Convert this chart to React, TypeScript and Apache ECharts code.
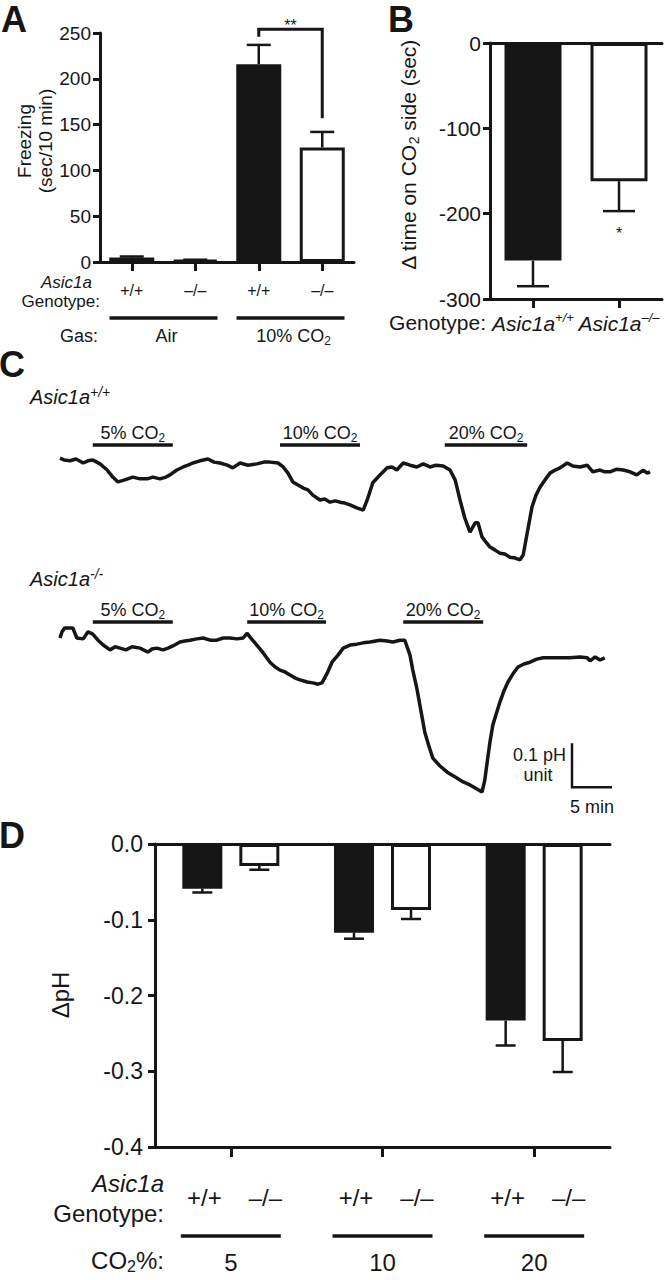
import React, { useEffect, useRef } from "react";
import * as echarts from "echarts";

const FONT = "'Liberation Sans', Arial, Helvetica, sans-serif";
const INK = "#161616";

// ---------- Panel A : freezing ----------
const freezeGroups = ["Air", "Air", "CO2", "CO2"];
const freezeGenotypes = ["+/+", "–/–", "+/+", "–/–"];
const freezeMeans = [5, 2, 216, 125];
const freezeSEM = [1, 0.5, 21, 17];
const gasLabels = ["Air", "10% CO{s|2}"];
const freezeBracket = [2, 3, 254, 246, 157]; // from cat, to cat, top, left end, right end
const freezeSig = "**";

// ---------- Panel B : avoidance ----------
const avoidGenotypes = ["+/+", "–/–"];
const avoidMeans = [-255, -162];
const avoidSEM = [30, 35];
const avoidSig = ["", "*"];

// ---------- Panel C : pH traces ----------
const trace1Time = [0, 0.5, 1.25, 2, 2.9, 3.5, 4.1, 4.6, 5, 5.9, 6.6, 7.25, 8, 9.1, 10, 10.9, 11.6, 12.5, 13.25, 13.75, 14.6, 15.4, 16, 16.6, 17.5, 18.5, 19.25, 20, 20.9, 21.6, 22.5, 23.5, 24.6, 25.5, 26.25, 27.25, 27.9, 28.5, 29.1, 29.75, 30.4, 31, 31.6, 32.5, 33.1, 33.75, 34.4, 35, 35.6, 36.25, 37.1, 37.9, 38.4, 39.1, 40, 40.9, 41.5, 42.1, 42.9, 43.75, 44.6, 45.4, 46.25, 47, 47.9, 48.75, 49.4, 50, 50.6, 51.25, 51.9, 52.25, 52.75, 53.25, 53.75, 54.4, 55, 55.6, 56.25, 56.9, 57.5, 57.9, 58.4, 59, 59.5, 60, 60.6, 61.25, 61.9, 62.5, 63.4, 64.1, 65, 65.9, 66.6, 67.5, 68.1, 68.75, 69.6, 70.4, 71.25, 72.1, 72.9, 73.4, 73.75];
const trace1PH = [0.011, 0.007, 0.005, 0.009, 0, 0.005, 0.007, 0.002, -0.002, -0.016, -0.032, -0.043, -0.039, -0.032, -0.036, -0.036, -0.032, -0.036, -0.032, -0.027, -0.016, -0.009, -0.005, 0, 0.005, 0.009, 0.002, 0, -0.005, -0.011, 0, -0.005, -0.002, 0.002, 0.002, 0, -0.009, -0.023, -0.043, -0.05, -0.057, -0.061, -0.073, -0.084, -0.082, -0.089, -0.086, -0.089, -0.091, -0.095, -0.102, -0.107, -0.084, -0.045, -0.027, -0.011, -0.009, -0.016, 0, -0.005, -0.009, -0.002, -0.009, -0.005, -0.007, -0.016, -0.039, -0.084, -0.125, -0.157, -0.136, -0.136, -0.168, -0.18, -0.191, -0.198, -0.205, -0.207, -0.214, -0.216, -0.22, -0.209, -0.159, -0.1, -0.073, -0.055, -0.039, -0.023, -0.016, -0.011, 0, -0.007, -0.009, -0.005, -0.02, -0.016, -0.02, -0.02, -0.014, -0.016, -0.02, -0.027, -0.016, -0.023, -0.02];
const trace2Time = [0, 0.25, 0.6, 1.6, 2.1, 2.9, 3.5, 4.1, 4.75, 5.4, 6.25, 6.9, 7.5, 8.25, 9, 10, 11, 11.5, 12.1, 12.9, 13.5, 14.1, 15, 15.6, 16.25, 17.1, 17.9, 18.75, 19.6, 20.4, 21.25, 22.1, 22.9, 23.4, 23.75, 24.6, 25.4, 26.25, 26.9, 27.5, 28.1, 28.75, 29.4, 30, 30.9, 31.6, 32.25, 32.75, 33.4, 34, 34.75, 35.4, 36.25, 37.1, 37.9, 38.75, 40, 40.9, 41.6, 42.5, 43.1, 43.75, 44.1, 44.6, 45.1, 45.6, 46.1, 46.6, 47.5, 48.4, 49.4, 50.4, 51.25, 51.9, 52.75, 53.1, 53.4, 53.75, 54.1, 54.6, 55, 55.5, 56, 56.6, 57.25, 58, 58.75, 59.6, 60.4, 61.9, 63.75, 65, 65.9, 66.25, 66.9, 67.5, 68.1];
const trace2PH = [0, 0.014, 0.023, 0.023, 0, -0.002, 0.014, 0.009, -0.005, -0.016, -0.027, -0.02, -0.023, -0.027, -0.02, -0.023, -0.032, -0.025, -0.023, -0.027, -0.023, -0.018, -0.009, -0.007, -0.005, -0.002, 0, -0.005, -0.005, 0, 0, -0.002, 0, 0.011, 0.002, -0.016, -0.034, -0.055, -0.066, -0.073, -0.077, -0.084, -0.091, -0.095, -0.1, -0.102, -0.105, -0.102, -0.08, -0.055, -0.039, -0.023, -0.016, -0.014, -0.011, -0.009, -0.005, -0.007, -0.009, -0.005, -0.005, -0.039, -0.073, -0.114, -0.164, -0.214, -0.245, -0.273, -0.291, -0.305, -0.316, -0.327, -0.334, -0.341, -0.35, -0.323, -0.282, -0.236, -0.198, -0.168, -0.145, -0.12, -0.1, -0.082, -0.066, -0.059, -0.055, -0.048, -0.045, -0.045, -0.045, -0.043, -0.045, -0.052, -0.043, -0.05, -0.045];
const stimWT = [[4.1, 14.1], [27.5, 37.5], [48.1, 58.4]];
const stimKO = [[4.1, 14.1], [23.4, 33.25], [42.9, 52.9]];
const stimLevels = ["5", "10", "20"];
const scaleBar = [64, -0.339, 5, 0.1]; // time, pH, 5 min, 0.1 pH unit

// ---------- Panel D : delta pH ----------
const co2Levels = ["5", "10", "20"];
const dGenotypes = ["+/+", "–/–"];
const dphWT = [-0.059, -0.117, -0.233];
const dphWTSEM = [0.005, 0.008, 0.033];
const dphKO = [-0.029, -0.087, -0.26];
const dphKOSEM = [0.005, 0.012, 0.041];

// ---------- layout ----------
const GA = { left: 100, top: 33, width: 254, height: 229 };
const GB = { left: 490, top: 43, width: 172, height: 256 };
const GC1 = { left: 60, top: 441, width: 590, height: 132 };
const GC2 = { left: 60, top: 616, width: 590, height: 198 };
const GD = { left: 155, top: 844, width: 455, height: 303 };
const TRACE_MAX_T = 73.75;

const lineSt = { color: INK, width: 3 };

const subRich = (F: number) => ({
  s: { fontSize: Math.round(F * 0.65), lineHeight: Math.round(F * 0.65), padding: [Math.round(F * 0.5), 0, 0, 0], fontFamily: FONT },
});

function txt(x: number, y: number, text: string, o: any = {}) {
  const size = o.size || 18;
  return {
    type: "text",
    x,
    y,
    rotation: o.rotation || 0,
    silent: true,
    style: {
      text,
      fill: INK,
      fontFamily: FONT,
      fontSize: size,
      fontStyle: o.italic ? "italic" : "normal",
      fontWeight: o.bold ? "bold" : "normal",
      align: o.align || "center",
      verticalAlign: "middle",
      lineHeight: o.lineHeight || size + 4,
      rich: o.rich,
    },
  };
}
function hline(x1: number, x2: number, y: number) {
  return { type: "line", silent: true, shape: { x1, y1: y, x2, y2: y }, style: { stroke: INK, lineWidth: 3.5 } };
}

function errorBarRender(offsetPx: number, capHalf: number) {
  return (params: any, api: any) => {
    const c = api.value(0);
    const m = api.value(1);
    const e = api.value(2);
    const dir = m < 0 ? -1 : 1;
    const p0 = api.coord([c, m]);
    const p1 = api.coord([c, m + dir * e]);
    const x = p0[0] + offsetPx;
    return {
      type: "group",
      children: [
        { type: "line", shape: { x1: x, y1: p0[1], x2: x, y2: p1[1] }, style: { stroke: INK, lineWidth: 2.5 } },
        { type: "line", shape: { x1: x - capHalf, y1: p1[1], x2: x + capHalf, y2: p1[1] }, style: { stroke: INK, lineWidth: 2.5 } },
      ],
    };
  };
}

function stimRender(lineOffset: number) {
  return (params: any, api: any) => {
    const s = api.value(0);
    const e = api.value(1);
    const y = params.coordSys.y + lineOffset;
    const x1 = api.coord([s, 0])[0];
    const x2 = api.coord([e, 0])[0];
    return {
      type: "group",
      children: [
        { type: "line", shape: { x1, y1: y, x2, y2: y }, style: { stroke: INK, lineWidth: 3.5 } },
        {
          type: "text",
          style: {
            text: stimLevels[params.dataIndex] + "% CO{s|2}",
            x: (x1 + x2) / 2,
            y: y - 12,
            align: "center",
            verticalAlign: "middle",
            fill: INK,
            fontFamily: FONT,
            fontSize: 18,
            lineHeight: 22,
            rich: subRich(18),
          },
        },
      ],
    };
  };
}

function fillFor(g: string) {
  return g === "+/+"
    ? { color: INK, borderColor: INK, borderWidth: 3 }
    : { color: "#ffffff", borderColor: INK, borderWidth: 3 };
}

function buildOption(): any {
  const aBand = GA.width / freezeGenotypes.length;
  const acx = (i: number) => GA.left + aBand * (i + 0.5);
  const dBand = GD.width / co2Levels.length;
  const dcx = (i: number) => GD.left + dBand * (i + 0.5);
  const D_OFF = 28.5;

  const graphics: any[] = [];
  // panel letters
  graphics.push(txt(14, 19, "A", { size: 36, bold: true }));
  graphics.push(txt(401, 19, "B", { size: 36, bold: true }));
  graphics.push(txt(12, 364, "C", { size: 36, bold: true }));
  graphics.push(txt(12, 835, "D", { size: 36, bold: true }));

  // A annotations
  graphics.push(txt(35, 141, "Freezing\n(sec/10 min)", { size: 19, rotation: Math.PI / 2, lineHeight: 21 }));
  graphics.push(txt(92, 282, "Asic1a", { size: 17, italic: true, align: "right", lineHeight: 16 }));
  graphics.push(txt(100, 301, "Genotype:", { size: 17, align: "right", lineHeight: 16 }));
  graphics.push(txt(98, 336, "Gas:", { size: 18, align: "right" }));
  for (let g = 0; g < gasLabels.length; g++) {
    const c = (acx(2 * g) + acx(2 * g + 1)) / 2;
    graphics.push(hline(c - 54, c + 54, 318));
    graphics.push(txt(c + 3, 336, gasLabels[g], { size: 18, rich: subRich(18) }));
  }

  // B annotations
  graphics.push(
    txt(408, 155, "Δ time on CO{s|2} side (sec)", { size: 21, rotation: Math.PI / 2, rich: subRich(21) })
  );
  graphics.push(txt(486, 322, "Genotype:", { size: 21, align: "right" }));

  // C annotations
  const supRich = {
    i: { fontSize: 20, fontStyle: "italic", lineHeight: 24, fontFamily: FONT },
    p: { fontSize: 14, fontStyle: "italic", lineHeight: 14, padding: [0, 0, 10, 0], fontFamily: FONT },
  };
  graphics.push(txt(30, 397, "{i|Asic1a}{p|+/+}", { size: 20, align: "left", rich: supRich }));
  graphics.push(txt(30, 579, "{i|Asic1a}{p|-/-}", { size: 20, align: "left", rich: supRich }));

  // D annotations
  graphics.push(txt(60, 995, "ΔpH", { size: 24, rotation: Math.PI / 2 }));
  graphics.push(txt(164, 1183, "Asic1a", { size: 24, italic: true, align: "right", lineHeight: 24 }));
  graphics.push(txt(164, 1213, "Genotype:", { size: 24, align: "right", lineHeight: 24 }));
  graphics.push(txt(164, 1260, "CO{s|2}%:", { size: 24, align: "right", rich: subRich(24) }));
  for (let i = 0; i < co2Levels.length; i++) {
    const c = dcx(i);
    graphics.push(txt(c - D_OFF + 2, 1197, dGenotypes[0], { size: 24, lineHeight: 24 }));
    graphics.push(txt(c + D_OFF + 6, 1197, dGenotypes[1], { size: 24, lineHeight: 24 }));
    graphics.push(hline(c - 50, c + 50, 1236));
    graphics.push(txt(c, 1262, co2Levels[i], { size: 24 }));
  }

  const catTick = (len: number) => ({ show: true, alignWithLabel: true, length: len, lineStyle: lineSt });
  const valAxis = (grid: number, min: number, max: number, interval: number, size: number, margin: number, fmt?: any) => ({
    gridIndex: grid,
    type: "value",
    min,
    max,
    interval,
    axisLine: { show: true, lineStyle: lineSt },
    axisTick: { show: true, length: 7, lineStyle: lineSt },
    axisLabel: { fontSize: size, color: INK, margin, fontFamily: FONT, formatter: fmt },
    splitLine: { show: false },
  });
  const hiddenVal = (grid: number, min: number, max: number) => ({
    gridIndex: grid,
    type: "value",
    min,
    max,
    show: false,
    splitLine: { show: false },
  });

  return {
    animation: false,
    backgroundColor: "#ffffff",
    textStyle: { fontFamily: FONT, color: INK },
    grid: [
      { ...GA, containLabel: false },
      { ...GB, containLabel: false },
      { ...GC1, containLabel: false },
      { ...GC2, containLabel: false },
      { ...GD, containLabel: false },
    ],
    xAxis: [
      {
        gridIndex: 0,
        type: "category",
        data: freezeGenotypes.map((g, i) => freezeGroups[i] + g),
        axisLine: { show: true, onZero: false, lineStyle: lineSt },
        axisTick: catTick(9),
        axisLabel: {
          interval: 0,
          margin: 20,
          fontSize: 16,
          color: INK,
          fontFamily: FONT,
          formatter: (_v: string, i: number) => freezeGenotypes[i],
        },
      },
      {
        gridIndex: 1,
        type: "category",
        data: avoidGenotypes,
        position: "bottom",
        axisLine: { show: true, onZero: false, lineStyle: lineSt },
        axisTick: catTick(9),
        axisLabel: {
          interval: 0,
          margin: 12,
          color: INK,
          formatter: (v: string) => `{i|Asic1a}{p|${v}}`,
          rich: {
            i: { fontSize: 21, fontStyle: "italic", lineHeight: 24, fontFamily: FONT, color: INK },
            p: { fontSize: 13, fontStyle: "italic", lineHeight: 13, padding: [0, 0, 11, 0], fontFamily: FONT, color: INK },
          },
        },
      },
      {
        gridIndex: 1,
        type: "category",
        data: avoidGenotypes,
        position: "top",
        axisLine: { show: true, onZero: false, lineStyle: lineSt },
        axisTick: { show: false },
        axisLabel: { show: false },
      },
      { gridIndex: 2, type: "value", min: 0, max: TRACE_MAX_T, show: false, splitLine: { show: false } },
      { gridIndex: 3, type: "value", min: 0, max: TRACE_MAX_T, show: false, splitLine: { show: false } },
      {
        gridIndex: 4,
        type: "category",
        data: co2Levels,
        position: "bottom",
        axisLine: { show: true, onZero: false, lineStyle: lineSt },
        axisTick: catTick(10),
        axisLabel: { show: false },
      },
      {
        gridIndex: 4,
        type: "category",
        data: co2Levels,
        position: "top",
        axisLine: { show: true, onZero: false, lineStyle: lineSt },
        axisTick: { show: false },
        axisLabel: { show: false },
      },
    ],
    yAxis: [
      valAxis(0, 0, 250, 50, 19, 9),
      valAxis(1, -300, 0, 100, 21, 9),
      hiddenVal(2, -0.25, 0.05),
      hiddenVal(3, -0.4, 0.05),
      valAxis(4, -0.4, 0, 0.1, 23, 12, (v: number) => (Math.abs(v) < 1e-9 ? "0.0" : v.toFixed(1))),
    ],
    series: [
      // A
      {
        type: "bar",
        xAxisIndex: 0,
        yAxisIndex: 0,
        barWidth: 45,
        data: freezeMeans.map((v, i) => ({ value: v, itemStyle: fillFor(freezeGenotypes[i]) })),
      },
      {
        type: "custom",
        xAxisIndex: 0,
        yAxisIndex: 0,
        encode: { x: 0, y: 1 },
        data: freezeMeans.map((m, i) => [i, m, freezeSEM[i]]),
        renderItem: errorBarRender(0, 12),
        clip: false,
      },
      {
        type: "custom",
        xAxisIndex: 0,
        yAxisIndex: 0,
        encode: { x: [0, 1], y: [2, 3, 4] },
        data: [freezeBracket],
        clip: false,
        renderItem: (params: any, api: any) => {
          const l = api.value(0), r = api.value(1), top = api.value(2), le = api.value(3), re = api.value(4);
          const a = api.coord([l, le]);
          const b = api.coord([l, top]);
          const c = api.coord([r, top]);
          const d = api.coord([r, re]);
          return {
            type: "group",
            children: [
              { type: "polyline", shape: { points: [a, b, c, d] }, style: { stroke: INK, lineWidth: 3, fill: null } },
              {
                type: "text",
                style: { text: freezeSig, x: (b[0] + c[0]) / 2, y: b[1] - 4, align: "center", verticalAlign: "middle", fontSize: 16, fill: INK, fontFamily: FONT },
              },
            ],
          };
        },
      },
      // B
      {
        type: "bar",
        xAxisIndex: 1,
        yAxisIndex: 1,
        barWidth: 57,
        data: avoidMeans.map((v, i) => ({ value: v, itemStyle: fillFor(avoidGenotypes[i]) })),
      },
      {
        type: "custom",
        xAxisIndex: 1,
        yAxisIndex: 1,
        encode: { x: 0, y: 1 },
        data: avoidMeans.map((m, i) => [i, m, avoidSEM[i]]),
        clip: false,
        renderItem: (params: any, api: any) => {
          const g: any = errorBarRender(0, 16)(params, api);
          const m = api.value(1), e = api.value(2);
          const p1 = api.coord([api.value(0), m - e]);
          const sig = avoidSig[params.dataIndex];
          if (sig) {
            g.children.push({
              type: "text",
              style: { text: sig, x: p1[0], y: p1[1] + 22, align: "center", verticalAlign: "middle", fontSize: 16, fill: INK, fontFamily: FONT },
            });
          }
          return g;
        },
      },
      // C traces
      {
        type: "line",
        xAxisIndex: 3,
        yAxisIndex: 2,
        showSymbol: false,
        lineStyle: { color: INK, width: 3.5 },
        data: trace1Time.map((t, i) => [t, trace1PH[i]]),
      },
      {
        type: "custom",
        xAxisIndex: 3,
        yAxisIndex: 2,
        encode: { x: [0, 1] },
        data: stimWT,
        clip: false,
        renderItem: stimRender(4),
      },
      {
        type: "line",
        xAxisIndex: 4,
        yAxisIndex: 3,
        showSymbol: false,
        lineStyle: { color: INK, width: 3.5 },
        data: trace2Time.map((t, i) => [t, trace2PH[i]]),
      },
      {
        type: "custom",
        xAxisIndex: 4,
        yAxisIndex: 3,
        encode: { x: [0, 1] },
        data: stimKO,
        clip: false,
        renderItem: stimRender(6),
      },
      {
        type: "custom",
        xAxisIndex: 4,
        yAxisIndex: 3,
        encode: { x: 0, y: 1 },
        data: [scaleBar],
        clip: false,
        renderItem: (params: any, api: any) => {
          const t = api.value(0), v = api.value(1), dt = api.value(2), dv = api.value(3);
          const corner = api.coord([t, v]);
          const top = api.coord([t, v + dv]);
          const right = api.coord([t + dt, v]);
          const ts = { fill: INK, fontFamily: FONT, fontSize: 18, verticalAlign: "middle" };
          return {
            type: "group",
            children: [
              { type: "polyline", shape: { points: [top, corner, right] }, style: { stroke: INK, lineWidth: 2.5, fill: null } },
              { type: "text", style: { ...ts, text: "0.1 pH", x: top[0] - 6, y: top[1] + 12, align: "right" } },
              { type: "text", style: { ...ts, text: "unit", x: corner[0] - 34, y: corner[1] - 12, align: "center" } },
              { type: "text", style: { ...ts, text: "5 min", x: (corner[0] + right[0]) / 2, y: corner[1] + 20, align: "center" } },
            ],
          };
        },
      },
      // D
      {
        type: "bar",
        xAxisIndex: 5,
        yAxisIndex: 4,
        barWidth: 40,
        barGap: "42.5%",
        data: dphWT.map((v) => ({ value: v, itemStyle: fillFor(dGenotypes[0]) })),
      },
      {
        type: "bar",
        xAxisIndex: 5,
        yAxisIndex: 4,
        barWidth: 40,
        barGap: "42.5%",
        data: dphKO.map((v) => ({ value: v, itemStyle: fillFor(dGenotypes[1]) })),
      },
      {
        type: "custom",
        xAxisIndex: 5,
        yAxisIndex: 4,
        encode: { x: 0, y: 1 },
        data: dphWT.map((m, i) => [i, m, dphWTSEM[i]]),
        clip: false,
        renderItem: errorBarRender(-D_OFF, 10),
      },
      {
        type: "custom",
        xAxisIndex: 5,
        yAxisIndex: 4,
        encode: { x: 0, y: 1 },
        data: dphKO.map((m, i) => [i, m, dphKOSEM[i]]),
        clip: false,
        renderItem: errorBarRender(D_OFF, 10),
      },
    ],
    graphic: graphics,
  };
}

export default function App() {
  const ref = useRef<HTMLDivElement>(null);
  useEffect(() => {
    document.body.style.margin = "0";
    const chart = echarts.init(ref.current as HTMLDivElement, null, { renderer: "svg" });
    chart.setOption(buildOption());
    return () => chart.dispose();
  }, []);
  return <div ref={ref} style={{ width: 669, height: 1280, background: "#ffffff" }} />;
}
